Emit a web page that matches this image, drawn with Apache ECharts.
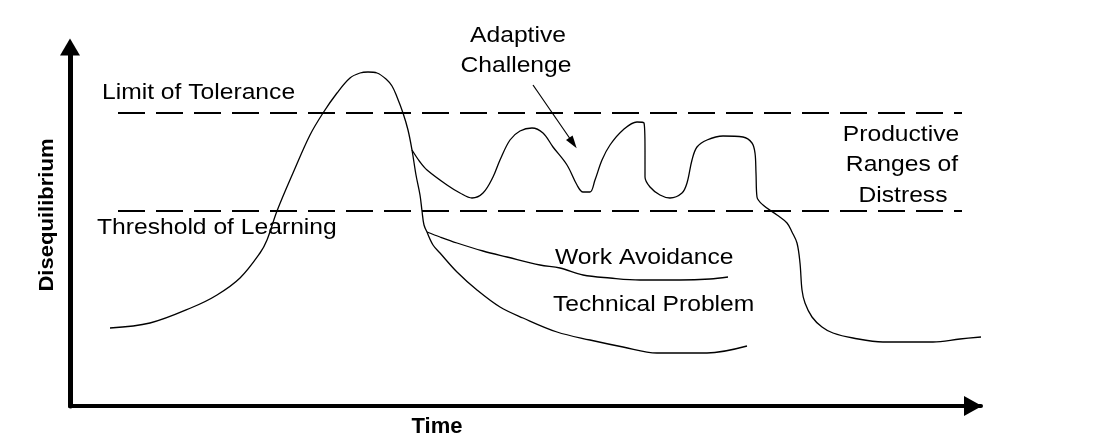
<!DOCTYPE html>
<html><head><meta charset="utf-8">
<script src="https://cdn.jsdelivr.net/npm/echarts/dist/echarts.min.js"></script>
<style>html,body{margin:0;padding:0;background:#fff}#c{width:1112px;height:441px}</style>
</head><body><div id="c"></div>
<script>
// Time (x) vs Disequilibrium (y), arbitrary units
const mainCurve = [[40,78],[80,83],[123,99],[147,111],[170,128],[190,153],[197,166],[207,195],[223,233],[240,271],[253,293],[267,313],[280,328],[290,333],[298,334],[307,333],[316,327],[322,320],[327,309],[333,293],[338,276],[342,256],[346,231],[350,211],[352,195],[354,181],[357,174]];
const adaptiveChallenge = [[342,256],[350,244],[357,236],[377,221],[390,213],[402,208],[413,213],[423,229],[430,246],[440,266],[450,275],[462,278],[473,273],[483,259],[497,241],[507,221],[513,214],[520,214],[525,226],[532,246],[540,261],[553,276],[567,284],[574,283],[575,256],[575,229],[580,219],[590,211],[600,208],[612,213],[617,223],[622,246],[627,259],[637,266],[653,270],[673,269],[682,263],[685,253],[686,233],[687,209],[693,201],[707,191],[717,183],[722,174],[727,163],[730,143],[732,116],[735,103],[742,89],[752,79],[763,73],[783,68],[813,64],[863,64],[890,67],[911,69]];
const workAvoidance = [[357,174],[370,169],[387,163],[413,155],[437,149],[470,141],[490,138],[513,131],[540,128],[570,126],[610,126],[640,127],[658,129]];
const technicalProblem = [[357,174],[363,161],[370,153],[387,134],[407,116],[430,99],[453,88],[487,74],[520,66],[553,59],[587,53],[620,53],[637,53],[677,60]];
const limitOfTolerance = [[48,293],[892,293]];
const thresholdOfLearning = [[48,195],[892,195]];
const adaptivePointer = [[463,321],[503,263]];
const annotationTexts = ['Limit of Tolerance','Threshold of Learning','Adaptive','Challenge','Productive','Ranges of','Distress','Work Avoidance','Technical Problem'];
const annotationAnchors = [[32,313],[27,178],[448,370],[446,340],[831,271],[832,241],[833,210],[485,148],[483,101]];
const xAxisTitle = 'Time';
const yAxisTitle = 'Disequilibrium';
const xTitleAnchor = [367,-21];
const yTitleAnchor = [-23,191];

const curveStyle = {color:'#000', width:1.3};
function curve(name, data){
  return {name, type:'line', data, smooth:0.35, symbol:'none', clip:false, lineStyle:curveStyle, silent:true};
}
function dashed(name, data){
  return {name, type:'line', data, symbol:'none', clip:false, silent:true, lineStyle:{color:'#000', width:2, type:[27,11]}};
}
const chart = echarts.init(document.getElementById('c'), null, {renderer:'canvas'});
const adaptiveSeries = curve('Adaptive Challenge', adaptiveChallenge);
adaptiveSeries.markLine = {
  silent:true, symbol:['none','triangle'], symbolSize:[8,13],
  label:{show:false}, lineStyle:{color:'#000', width:1.2, type:'solid'},
  data:[[{coord:adaptivePointer[0]},{coord:adaptivePointer[1]}]]
};
chart.setOption({
  animation:false,
  backgroundColor:'#fff',
  grid:{left:70, right:131, top:47, bottom:35, containLabel:false},
  xAxis:{type:'value', min:0, max:911, axisLine:{show:true, symbol:['none','triangle'], symbolSize:[20,18], symbolOffset:[0,-8], lineStyle:{color:'#000', width:4}}, axisTick:{show:false}, axisLabel:{show:false}, splitLine:{show:false}},
  yAxis:{type:'value', min:0, max:359, axisLine:{show:true, onZero:false, symbol:['none','triangle'], symbolSize:[20,17], lineStyle:{color:'#000', width:5}}, axisTick:{show:false}, axisLabel:{show:false}, splitLine:{show:false}},
  series:[
    dashed('Limit of Tolerance', limitOfTolerance),
    dashed('Threshold of Learning', thresholdOfLearning),
    curve('Main', mainCurve),
    adaptiveSeries,
    curve('Work Avoidance', workAvoidance),
    curve('Technical Problem', technicalProblem)
  ]
});
const leftAligned = {'Limit of Tolerance':1,'Threshold of Learning':1,'Work Avoidance':1,'Technical Problem':1};
const graphics = annotationTexts.map((t,i)=>{
  const p = chart.convertToPixel({gridIndex:0}, annotationAnchors[i]);
  return {type:'text', x:p[0], y:p[1], scaleX:1.12, silent:true,
    style:{text:t, fontSize:22, fontFamily:'"Liberation Sans", Arial, sans-serif', fill:'#000', align: leftAligned[t] ? 'left':'center', verticalAlign:'middle'}};
});
const xp = chart.convertToPixel({gridIndex:0}, xTitleAnchor);
graphics.push({type:'text', x:xp[0], y:xp[1], silent:true, style:{text:xAxisTitle, fontSize:22, fontWeight:'bold', fontFamily:'"Liberation Sans", Arial, sans-serif', fill:'#000', align:'center', verticalAlign:'middle'}});
const yp = chart.convertToPixel({gridIndex:0}, yTitleAnchor);
graphics.push({type:'text', x:yp[0], y:yp[1], rotation:Math.PI/2, scaleX:1.05, silent:true, style:{text:yAxisTitle, fontSize:21, fontWeight:'bold', fontFamily:'"Liberation Sans", Arial, sans-serif', fill:'#000', align:'center', verticalAlign:'middle'}});
chart.setOption({graphic:graphics});
</script>
</body></html>
